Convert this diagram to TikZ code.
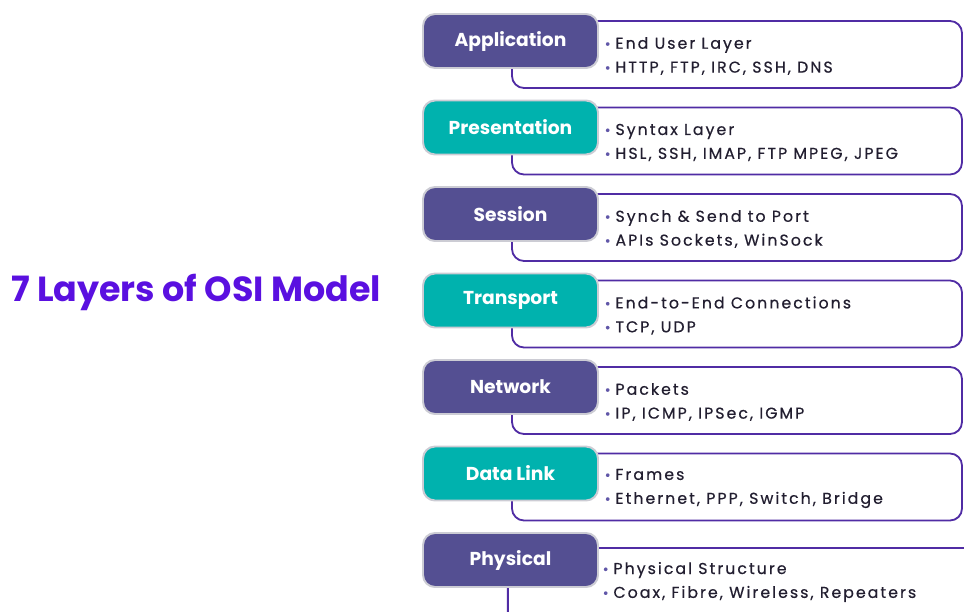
\documentclass[tikz,border=0pt]{standalone}
\usepackage{fontspec}
\setmainfont{Poppins}
\newfontfamily\infofont[LetterSpace=13,FakeBold=0.5]{Poppins}
\usetikzlibrary{backgrounds}

\definecolor{layerpurple}{RGB}{84,79,146}
\definecolor{layerteal}{RGB}{0,178,174}
\definecolor{boxedge}{RGB}{204,204,212}
\definecolor{panelline}{RGB}{80,44,164}
\definecolor{titlecol}{RGB}{90,16,224}
\definecolor{infotext}{RGB}{34,30,48}
\definecolor{dotcol}{RGB}{96,86,168}

\newcommand{\itm}{{\color{dotcol}\fontsize{10}{10}\selectfont\textbullet}\hspace{3.5pt}}

\tikzstyle{layer} = [rectangle, rounded corners=0.3cm, minimum width=4.375cm, minimum height=1.35cm, text centered, draw=boxedge, line width=1.4pt, text=white, font=\fontsize{13.3}{16}\selectfont\bfseries]
\tikzstyle{purplelayer} = [layer, fill=layerpurple]
\tikzstyle{teallayer} = [layer, fill=layerteal]
\tikzstyle{panel} = [rectangle, rounded corners=0.3cm, minimum width=11.25cm, minimum height=1.675cm, draw=panelline, line width=1.3pt, fill=white]
\tikzstyle{info} = [anchor=west, align=left, inner sep=0pt, text=infotext, font=\infofont\fontsize{11.2}{17}\selectfont]

\begin{document}
\begin{tikzpicture}[node distance=2.1625cm]
\useasboundingbox (0,0) rectangle (24.1,-15.3);
\clip (0,0) rectangle (24.1,-15.3);

\node (title) at (4.9,-7.3) [text=titlecol, font=\fontsize{24.8}{30}\selectfont\bfseries] {7 Layers of OSI Model};

% the seven layer boxes
\node (app) at (12.7625,-1.025) [purplelayer] {Application};
\node (pres) [teallayer, below of=app] {Presentation};
\node (sess) [purplelayer, below of=pres] {Session};
\node (trans) [teallayer, below of=sess] {Transport};
\node (net) [purplelayer, below of=trans] {Network};
\node (link) [teallayer, below of=net] {Data Link};
\node (phys) [purplelayer, below of=link] {Physical};

% outlined panels behind the boxes
\begin{pgfonlayer}{background}
\node (appbox) [panel] at ([xshift=5.6625cm, yshift=-0.3375cm]app.center) {};
\node (presbox) [panel] at ([xshift=5.6625cm, yshift=-0.3375cm]pres.center) {};
\node (sessbox) [panel] at ([xshift=5.6625cm, yshift=-0.3375cm]sess.center) {};
\node (transbox) [panel] at ([xshift=5.6625cm, yshift=-0.3375cm]trans.center) {};
\node (netbox) [panel] at ([xshift=5.6625cm, yshift=-0.3375cm]net.center) {};
\node (linkbox) [panel] at ([xshift=5.6625cm, yshift=-0.3375cm]link.center) {};
\node (physbox) [panel, minimum width=12.05cm, minimum height=2.3cm] at ([xshift=5.96cm, yshift=-0.85cm]phys.center) {};
\end{pgfonlayer}

% two lines of detail per layer
\node (appinfo) [info] at ([xshift=2.35cm, yshift=-0.375cm]app.center) {\itm End User Layer\\ \itm HTTP, FTP, IRC, SSH, DNS};
\node (presinfo) [info] at ([xshift=2.35cm, yshift=-0.375cm]pres.center) {\itm Syntax Layer\\ \itm HSL, SSH, IMAP, FTP MPEG, JPEG};
\node (sessinfo) [info] at ([xshift=2.35cm, yshift=-0.375cm]sess.center) {\itm Synch \& Send to Port\\ \itm APIs Sockets, WinSock};
\node (transinfo) [info] at ([xshift=2.35cm, yshift=-0.375cm]trans.center) {\itm End-to-End Connections\\ \itm TCP, UDP};
\node (netinfo) [info] at ([xshift=2.35cm, yshift=-0.375cm]net.center) {\itm Packets\\ \itm IP, ICMP, IPSec, IGMP};
\node (linkinfo) [info] at ([xshift=2.35cm, yshift=-0.375cm]link.center) {\itm Frames\\ \itm Ethernet, PPP, Switch, Bridge};
\node (physinfo) [info] at ([xshift=2.3cm, yshift=-0.55cm]phys.center) {\itm Physical Structure\\ \itm Coax, Fibre, Wireless, Repeaters};

\end{tikzpicture}
\end{document}
